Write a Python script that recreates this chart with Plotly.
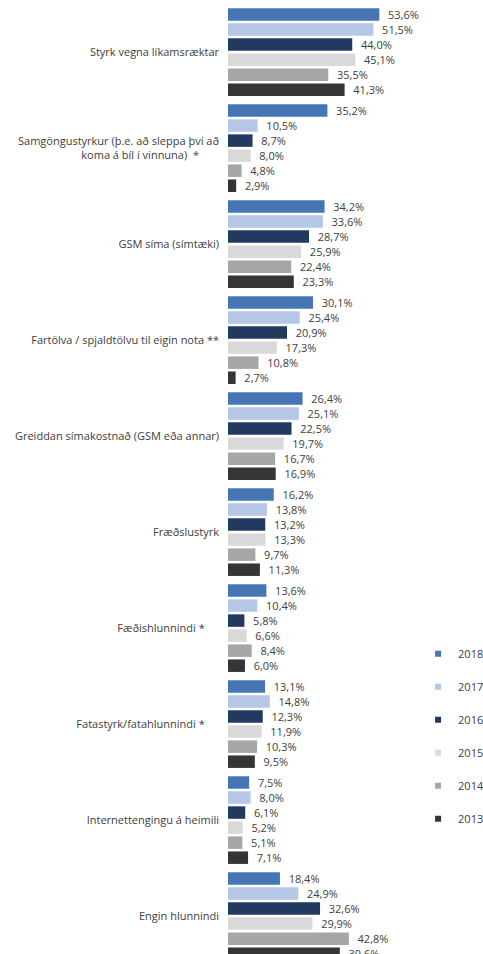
import plotly.graph_objects as go

categories = [
    "Styrk vegna líkamsræktar",
    "Samgöngustyrkur (þ.e. að sleppa því að<br>koma á bíl í vinnuna)  *\u00a0\u00a0\u00a0\u00a0\u00a0\u00a0\u00a0",
    "GSM síma (símtæki)",
    "Fartölva / spjaldtölvu til eigin nota **",
    "Greiddan símakostnað (GSM eða annar)",
    "Fræðslustyrk",
    "Fæðishlunnindi *\u00a0\u00a0\u00a0\u00a0\u00a0",
    "Fatastyrk/fatahlunnindi *\u00a0\u00a0\u00a0\u00a0\u00a0",
    "Internettengingu á heimili",
    "Engin hlunnindi",
]

years = ["2018", "2017", "2016", "2015", "2014", "2013"]

v2018 = [53.6, 35.2, 34.2, 30.1, 26.4, 16.2, 13.6, 13.1, 7.5, 18.4]
v2017 = [51.5, 10.5, 33.6, 25.4, 25.1, 13.8, 10.4, 14.8, 8.0, 24.9]
v2016 = [44.0, 8.7, 28.7, 20.9, 22.5, 13.2, 5.8, 12.3, 6.1, 32.6]
v2015 = [45.1, 8.0, 25.9, 17.3, 19.7, 13.3, 6.6, 11.9, 5.2, 29.9]
v2014 = [35.5, 4.8, 22.4, 10.8, 16.7, 9.7, 8.4, 10.3, 5.1, 42.8]
v2013 = [41.3, 2.9, 23.3, 2.7, 16.9, 11.3, 6.0, 9.5, 7.1, 39.6]

series = [v2018, v2017, v2016, v2015, v2014, v2013]
colors = ["#4675b5", "#b4c7e7", "#213a5f", "#d9d9d9", "#a6a6a6", "#353535"]

FONT = "Open Sans"
fig = go.Figure()

for yr, vals, col in zip(years, series, colors):
    fig.add_trace(go.Bar(
        y=categories, x=vals, orientation="h", name=yr,
        marker=dict(color=col, line=dict(width=0)),
        text=["\u00a0\u00a0" + f"{v:.1f}".replace(".", ",") + "%" for v in vals],
        textposition="outside", constraintext="none", cliponaxis=False,
        textfont=dict(family=FONT, size=11, color="#404040"),
        showlegend=False, hoverinfo="skip",
    ))

for i, (yr, col) in enumerate(zip(years, colors)):
    fig.add_trace(go.Scatter(
        x=[None], y=[None], mode="markers", name=yr,
        marker=dict(symbol="square", size=6, color=col),
        legendgroup=yr, showlegend=True,
    ))

fig.update_layout(
    width=483, height=954,
    margin=dict(l=228, r=63, t=0, b=0, autoexpand=False),
    paper_bgcolor="white", plot_bgcolor="white",
    barmode="group", bargap=0.06, bargroupgap=0.17,
    font=dict(family=FONT, size=11, color="#404040"),
    xaxis=dict(range=[0, 68], visible=False, showgrid=False, zeroline=False,
               automargin=False),
    yaxis=dict(range=[9.395, -0.543], showgrid=False, zeroline=False, showline=False,
               ticks="", ticklabelstandoff=8, automargin=False,
               tickfont=dict(family=FONT, size=11, color="#404040")),
    legend=dict(x=0.99, xanchor="left", y=0.33, yanchor="top",
                traceorder="grouped", tracegroupgap=14,
                itemwidth=30, font=dict(family=FONT, size=11, color="#404040"),
                bgcolor="rgba(0,0,0,0)"),
)

fig.write_html("out.html",
               config={"displayModeBar": False},
               post_script="document.body.style.margin='0';document.body.style.overflow='hidden';")
